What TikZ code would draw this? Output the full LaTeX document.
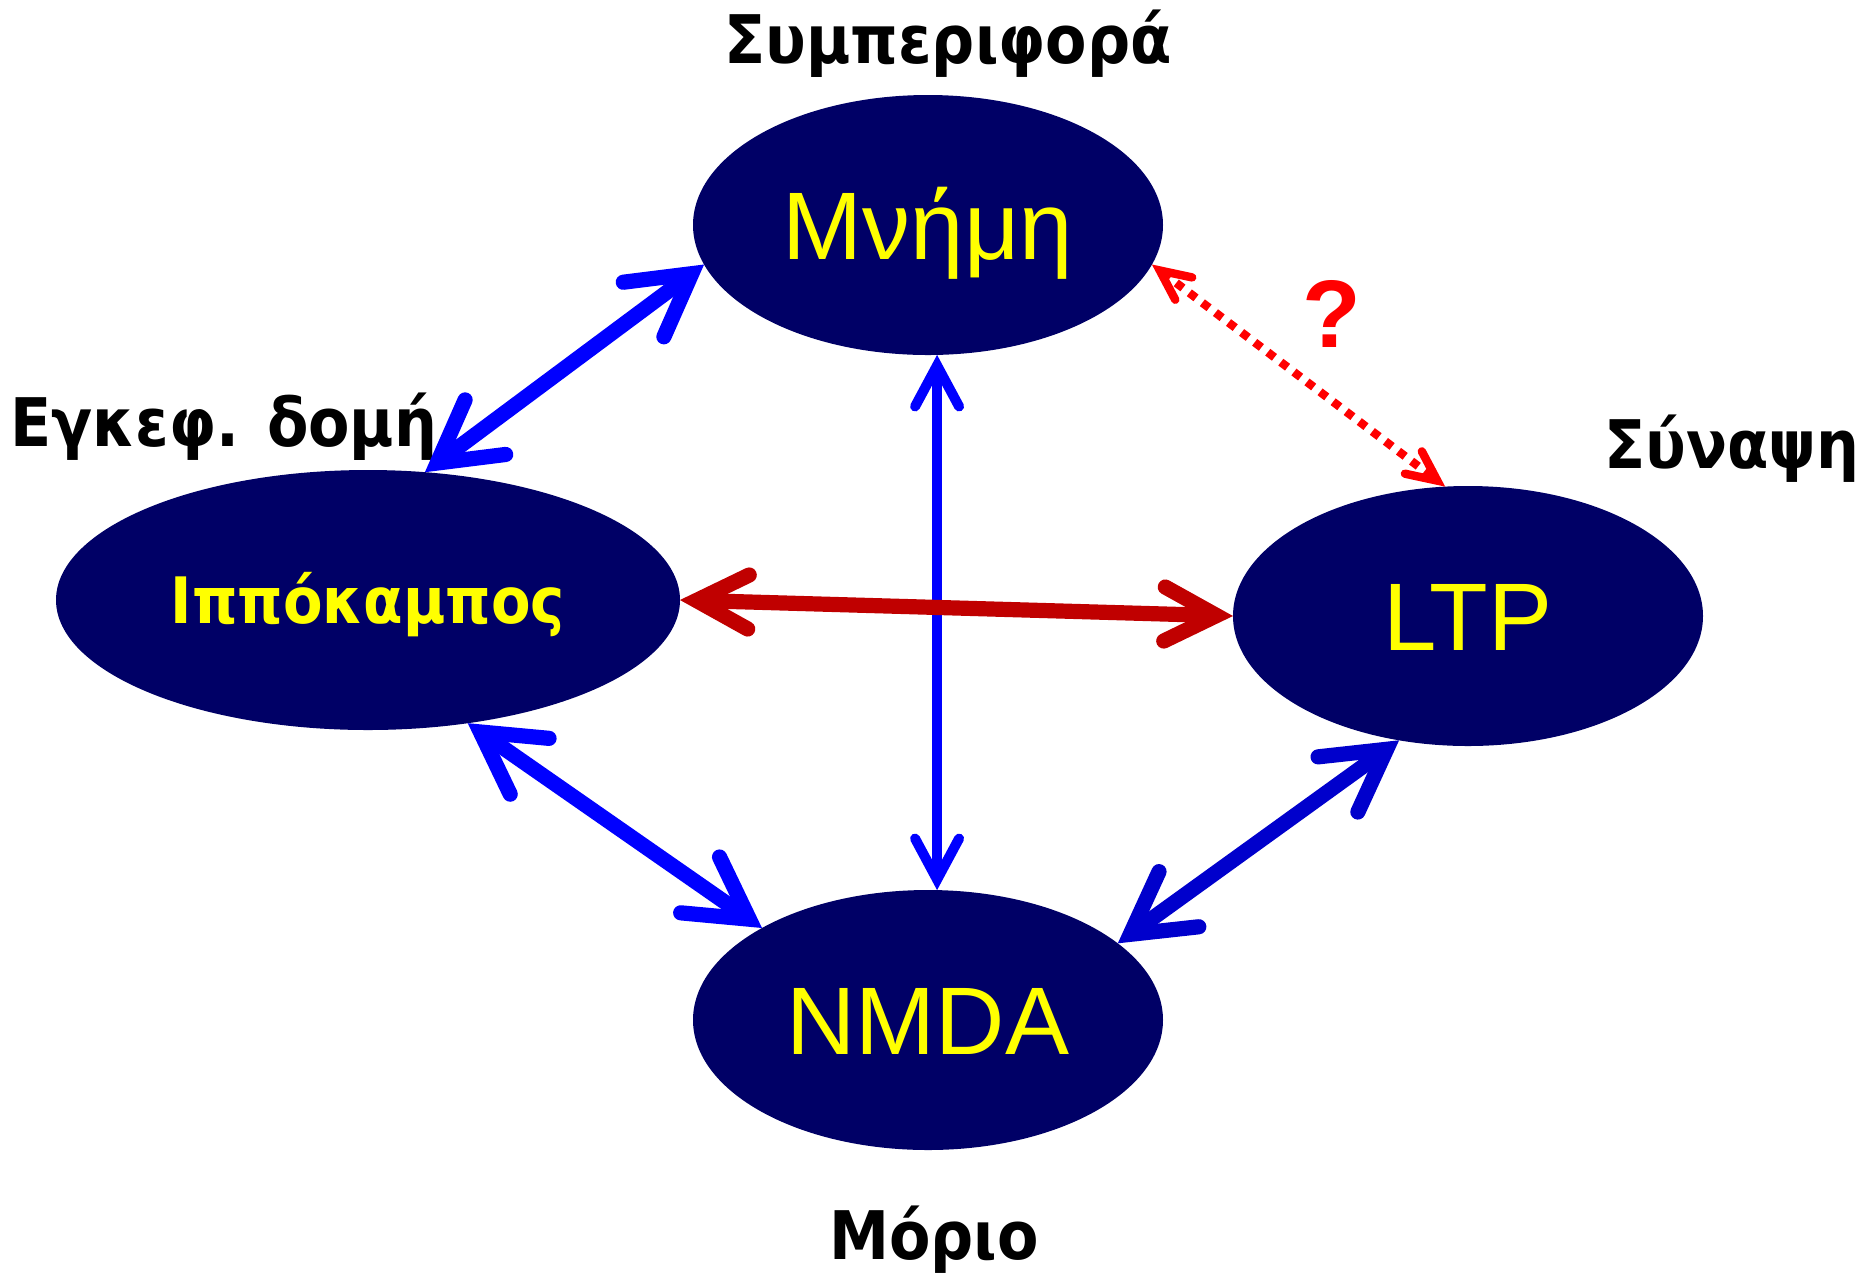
\documentclass[tikz,border=0pt]{standalone}
\usepackage{fontspec}
\setmainfont{Liberation Sans}
\newfontfamily\tagfont{DejaVu Sans}[FakeStretch=0.9]
\usetikzlibrary{arrows.meta,shapes.geometric}

\definecolor{bubblefill}{HTML}{000066}
\definecolor{bubbletext}{HTML}{FFFF00}
\definecolor{linkblue}{HTML}{0000FF}
\definecolor{linkdeep}{HTML}{0000CC}
\definecolor{linkred}{HTML}{C00000}
\definecolor{askred}{HTML}{FF0000}

\tikzset{
  bubble/.style={ellipse, fill=bubblefill, text=bubbletext, inner sep=0pt, outer sep=0pt,
    minimum width=235pt, minimum height=130pt, text height=34.4pt, text depth=0pt,
    font=\fontsize{48}{50}\selectfont},
  tag/.style={font=\tagfont\bfseries\fontsize{33.5}{35}\selectfont, inner sep=0pt},
  link/.style={line width=7.6pt,
    {Straight Barb[length=30pt,width=34pt,line cap=round,line join=miter]}-{Straight Barb[length=30pt,width=34pt,line cap=round,line join=miter]}},
  redlink/.style={line width=7.6pt, linkred,
    {Straight Barb[length=26pt,width=27pt,line cap=round,line join=miter]}-{Straight Barb[length=26pt,width=27pt,line cap=round,line join=miter]}},
  slimlink/.style={line width=5pt,
    {Straight Barb[length=20.5pt,width=22pt,line cap=round,line join=miter]}-{Straight Barb[length=20.5pt,width=22pt,line cap=round,line join=miter]}},
  maybe/.style={askred, line width=4.2pt, dash pattern=on 4.2pt off 4pt,
    {Straight Barb[length=15pt,width=14pt,line cap=round,line join=miter]}-{Straight Barb[length=15pt,width=14pt,line cap=round,line join=miter]}}
}

\begin{document}
\begin{tikzpicture}[x=0.5pt,y=-0.5pt]
  \path[use as bounding box, fill=white] (0,0) rectangle (1865,1276);

  % the four ellipses
  \node[bubble] (mem) at (928,225) {Μνήμη};
  \node[bubble, minimum width=312pt, text height=23.3pt,
        font=\tagfont\bfseries\fontsize{32}{34}\selectfont] (hip) at (368,600) {Ιππόκαμπος};
  \node[bubble] (ltp) at (1468,616) {LTP};
  \node[bubble] (nmda) at (928,1020) {NMDA};

  % level names
  \node[tag, anchor=base] (behav) at (948,63) {Συμπεριφορά};
  \node[tag, anchor=base west] (brain) at (10,446) {Εγκεφ. δομή};
  \node[tag, anchor=base west] (syn) at (1604,468) {Σύναψη};
  \node[tag, anchor=base] (mol) at (934,1259) {Μόριο};
  \node[font=\bfseries\fontsize{48}{50}\selectfont, text=askred, inner sep=0pt, anchor=base] (ask) at (1332,347) {?};

  % connections
  \draw[link, linkblue] (mem.190.6) -- (hip.66.3);
  \draw[link, linkblue] (hip.-51.1) -- (nmda.151.2);
  \draw[link, linkdeep] (ltp.241.5) -- (nmda.22.1);
  \draw[slimlink, linkblue] (mem.-86.5) -- (nmda.86.5); % vertical one
  \draw[redlink] (hip.east) -- (ltp.west);
  \draw[maybe] (mem.-10.6) -- (ltp.100.4); % dotted, unknown link
\end{tikzpicture}
\end{document}
